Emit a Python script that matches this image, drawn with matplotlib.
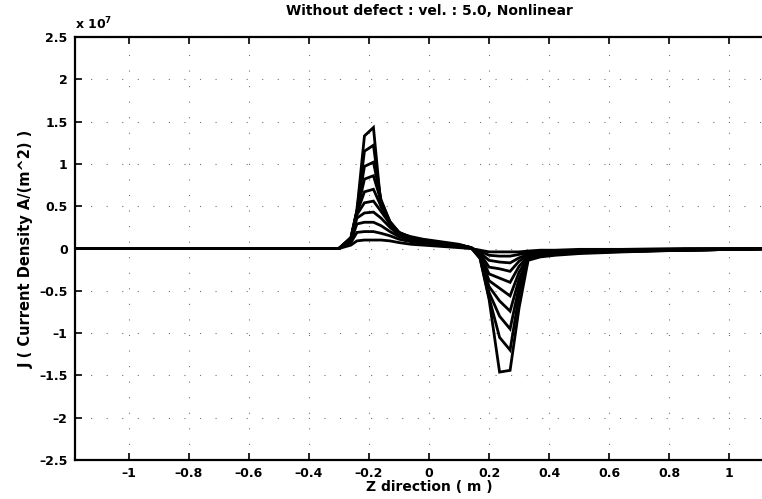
import matplotlib.pyplot as plt
import numpy as np

# z positions (m) shared by all curves
z = [-1.18, -0.60, -0.30, -0.26, -0.24, -0.215, -0.185, -0.16, -0.13, -0.10,
     -0.06, -0.02, 0.02, 0.06, 0.10, 0.14, 0.17, 0.20, 0.235, 0.27,
     0.30, 0.33, 0.37, 0.42, 0.50, 0.65, 0.85, 1.18]

# current density curves, units of 1e7 A/m^2
j1 = [0, 0, 0.0, 0.13, 0.45, 1.33, 1.43, 0.50, 0.28, 0.18, 0.14, 0.11, 0.09, 0.07,
      0.05, 0.01, -0.12, -0.60, -1.46, -1.44, -0.70, -0.14, -0.10, -0.08, -0.06, -0.04, -0.02, 0]
j2 = [0, 0, 0, 0.13, 0.45, 1.15, 1.22, 0.55, 0.30, 0.18, 0.13, 0.10, 0.08, 0.06,
      0.04, 0.01, -0.11, -0.58, -1.05, -1.20, -0.55, -0.13, -0.09, -0.07, -0.05, -0.035, -0.02, 0]
j3 = [0, 0, 0, 0.12, 0.44, 0.97, 1.02, 0.58, 0.31, 0.19, 0.13, 0.10, 0.08, 0.06,
      0.04, 0.01, -0.10, -0.52, -0.80, -0.95, -0.45, -0.12, -0.09, -0.07, -0.05, -0.03, -0.02, 0]
j4 = [0, 0, 0, 0.12, 0.43, 0.82, 0.86, 0.56, 0.32, 0.19, 0.13, 0.10, 0.08, 0.06,
      0.04, 0.01, -0.09, -0.45, -0.62, -0.74, -0.36, -0.11, -0.08, -0.06, -0.05, -0.03, -0.02, 0]
j5 = [0, 0, 0, 0.11, 0.42, 0.67, 0.70, 0.50, 0.31, 0.19, 0.13, 0.10, 0.08, 0.06,
      0.04, 0.01, -0.08, -0.38, -0.47, -0.56, -0.28, -0.10, -0.08, -0.06, -0.04, -0.03, -0.02, 0]
j6 = [0, 0, 0, 0.11, 0.40, 0.54, 0.56, 0.44, 0.29, 0.18, 0.12, 0.09, 0.07, 0.05,
      0.04, 0.01, -0.07, -0.30, -0.35, -0.40, -0.21, -0.09, -0.07, -0.05, -0.04, -0.03, -0.02, 0]
j7 = [0, 0, 0, 0.10, 0.36, 0.42, 0.43, 0.36, 0.25, 0.16, 0.11, 0.08, 0.06, 0.05,
      0.03, 0.01, -0.06, -0.22, -0.24, -0.27, -0.15, -0.08, -0.06, -0.05, -0.04, -0.02, -0.01, 0]
j8 = [0, 0, 0, 0.09, 0.29, 0.31, 0.31, 0.27, 0.20, 0.14, 0.10, 0.07, 0.05, 0.04,
      0.03, 0.01, -0.05, -0.14, -0.16, -0.17, -0.11, -0.07, -0.05, -0.04, -0.03, -0.02, -0.01, 0]
j9 = [0, 0, 0, 0.07, 0.19, 0.20, 0.20, 0.18, 0.15, 0.11, 0.08, 0.06, 0.04, 0.03,
      0.02, 0.0, -0.03, -0.08, -0.09, -0.09, -0.07, -0.05, -0.04, -0.03, -0.02, -0.01, -0.01, 0]
j10 = [0, 0, 0, 0.04, 0.09, 0.10, 0.10, 0.10, 0.09, 0.07, 0.05, 0.04, 0.03, 0.02,
       0.01, 0.0, -0.02, -0.04, -0.04, -0.04, -0.04, -0.03, -0.02, -0.02, -0.01, -0.01, 0, 0]

xticks = [-1, -0.8, -0.6, -0.4, -0.2, 0, 0.2, 0.4, 0.6, 0.8, 1]
yticks = [-2.5, -2, -1.5, -1, -0.5, 0, 0.5, 1, 1.5, 2, 2.5]

plt.rcParams['font.family'] = 'DejaVu Sans'
plt.rcParams['font.weight'] = 'bold'

fig = plt.figure(figsize=(7.62, 4.99), dpi=100)
ax = fig.add_axes([0.098, 0.078, 0.93, 0.848])

for j in [j1, j2, j3, j4, j5, j6, j7, j8, j9, j10]:
    ax.plot(z, j, color='black', linewidth=2.0, solid_joinstyle='miter')

ax.set_xlim(-1.18, 1.18)
ax.set_ylim(-2.5, 2.5)
ax.set_xticks(xticks)
ax.set_xticklabels([('%g' % t).replace('-', '\u2013') for t in xticks])
ax.set_yticks(yticks)
ax.set_yticklabels([('%g' % t).replace('-', '\u2013') for t in yticks])
ax.tick_params(direction='in', length=5, width=1.2, labelsize=9, top=True, right=False, pad=5)
ax.tick_params(axis='x', pad=5)
ax.grid(True, linestyle=(0, (1, 13)), color='0.45', linewidth=0.8)
ax.set_axisbelow(True)
for s in ax.spines.values():
    s.set_linewidth(1.6)
ax.spines['right'].set_visible(False)

ax.set_title('Without defect : vel. : 5.0, Nonlinear', fontsize=10, fontweight='bold', pad=16)
ax.set_xlabel('Z direction ( m )', fontsize=10, fontweight='bold', labelpad=0)
ax.set_ylabel('J ( Current Density A/(m^2) )', fontsize=10.5, fontweight='bold', labelpad=4)
ax.text(0.0, 1.012, r'x 10$^{\mathbf{7}}$', transform=ax.transAxes, fontsize=9,
        fontweight='bold', ha='left', va='bottom')

fig.savefig('out.png', dpi=100)
